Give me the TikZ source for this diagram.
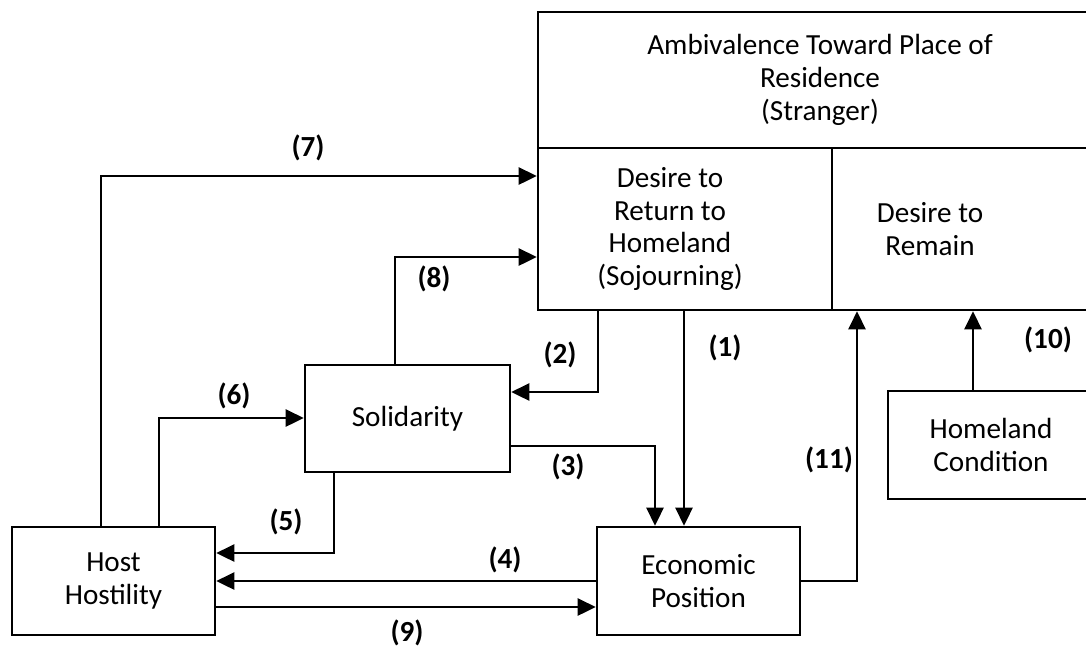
\documentclass[tikz,border=0pt]{standalone}
\usepackage{fontspec}
\setmainfont{Carlito}
\usetikzlibrary{arrows.meta, positioning}

\begin{document}
\begin{tikzpicture}[x=0.02cm, y=-0.02cm]
    \tikzset{
        box/.style={draw, line width=1.5pt, minimum width=4.06cm, minimum height=2.16cm, align=center, font=\fontsize{16.6}{18.6}\selectfont},
        boxtext/.style={align=center, font=\fontsize{16.6}{18.6}\selectfont},
        link/.style={line width=1.5pt, -{Triangle[length=3.6mm, width=3.4mm]}},
        num/.style={font=\fontsize{16.6}{18}\selectfont\bfseries}
    }
    \useasboundingbox (0,0) rectangle (1086,647);

    % stranger block
    \node[box, minimum width=11.28cm, minimum height=2.72cm] (amb) at (820,80) {Ambivalence Toward Place of\\Residence\\(Stranger)};
    \node[box, minimum width=5.88cm, minimum height=3.24cm] (ret) at (685,229) {};
    \node[box, minimum width=5.4cm, minimum height=3.24cm] (rem) at (967,229) {};
    \node[boxtext] (rettext) at (670,229) {Desire to\\Return to\\Homeland\\(Sojourning)};
    \node[boxtext] (remtext) at (930,229) {Desire to\\Remain};

    % factors
    \node[box, minimum width=4.1cm, minimum height=2.14cm] (sol) at (407.5,418.5) {Solidarity};
    \node[box] (host) at (113.5,581) {Host\\Hostility};
    \node[box] (eco) at (698.5,581) {Economic\\Position};
    \node[box, minimum width=4.12cm] (home) at (991,445) {Homeland\\Condition};

    % paths
    \draw[link] (host.north -| 101,0) |- (ret.west |- 0,176);
    \draw[link] (sol.north -| 395,0) |- (ret.west |- 0,257);
    \draw[link] (ret.south -| 598,0) |- (sol.east |- 0,392);
    \draw[link] (ret.south -| 684,0) -- (eco.north -| 684,0);
    \draw[link] (sol.east |- 0,446) -| (eco.north -| 655,0);
    \draw[link] (host.north -| 159,0) |- (sol.west |- 0,418);
    \draw[link] (sol.south -| 334,0) |- (host.east |- 0,553);
    \draw[link] (eco.west |- 0,581) -- (host.east |- 0,581);
    \draw[link] (host.east |- 0,607) -- (eco.west |- 0,607);
    \draw[link] (eco.east |- 0,581) -| (rem.south -| 857,0);
    \draw[link] (home.north -| 973,0) -- (rem.south -| 973,0);

    % path numbers
    \node[num] (n1) at (725,348) {(1)};
    \node[num] (n2) at (560,355) {(2)};
    \node[num] (n3) at (568,467) {(3)};
    \node[num] (n4) at (505,560) {(4)};
    \node[num] (n5) at (286,522) {(5)};
    \node[num] (n6) at (234,396) {(6)};
    \node[num] (n7) at (308,148) {(7)};
    \node[num] (n8) at (434,279) {(8)};
    \node[num] (n9) at (407,633) {(9)};
    \node[num] (n10) at (1048,340) {(10)};
    \node[num] (n11) at (829,460) {(11)};
\end{tikzpicture}
\end{document}
